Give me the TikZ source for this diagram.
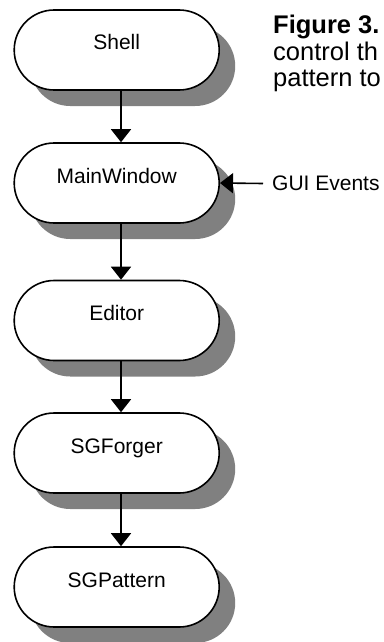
\documentclass[tikz,border=0pt]{standalone}
\usepackage{fontspec}
\setmainfont{Liberation Sans}
\usetikzlibrary{shapes.misc,arrows.meta,shadows}
\definecolor{shadowgray}{HTML}{808080}
\tikzset{
  stadium/.style={rounded rectangle, draw=black, line width=1.6pt, fill=white,
    minimum width=205pt, minimum height=80pt, inner sep=0pt,
    drop shadow={shadow xshift=16pt, shadow yshift=-16pt, fill=shadowgray, opacity=1}},
  boxlabel/.style={anchor=base, inner sep=0pt, font=\fontsize{21}{25}\selectfont},
  flow/.style={line width=1.6pt, -{Triangle[length=13pt,width=20pt]}},
  caption/.style={anchor=base west, inner sep=0pt, font=\fontsize{25.5}{26.7}\selectfont}
}
\begin{document}
\begin{tikzpicture}[x=1pt,y=1pt]
  \useasboundingbox[fill=white] (0,0) rectangle (383,-642);

  % the chain of components
  \node[stadium] (shell)  at (116.7,-50)    {};
  \node[stadium] (main)   at (116.7,-183)   {};
  \node[stadium] (editor) at (116.7,-320.5) {};
  \node[stadium] (forger) at (116.7,-453)   {};
  \node[stadium] (sgpat)  at (116.7,-587)   {};

  \node[boxlabel] (shell-t)  at (shell.center)  {Shell};
  \node[boxlabel] (main-t)   at (main.center)   {MainWindow};
  \node[boxlabel] (editor-t) at (editor.center) {Editor};
  \node[boxlabel] (forger-t) at (forger.center) {SGForger};
  \node[boxlabel] (sgpat-t)  at (sgpat.center)  {SGPattern};

  % control flow between components
  \draw[flow] ([xshift=4.3pt]shell.south)  -- ([xshift=4.3pt]main.north);
  \draw[flow] ([xshift=4.3pt]main.south)   -- ([xshift=4.3pt]editor.north);
  \draw[flow] ([xshift=4.3pt]editor.south) -- ([xshift=4.3pt]forger.north);
  \draw[flow] ([xshift=4.3pt]forger.south) -- ([xshift=4.3pt]sgpat.north);

  % external input
  \coordinate (gui) at (263,-183.5);
  \node[anchor=base west, inner sep=0pt, font=\fontsize{21}{25}\selectfont] (gui-t) at (272,-190.7) {GUI Events};
  \draw[flow] (gui) -- (main.east);

  % caption
  \node[caption, font=\fontsize{25.5}{26.7}\selectfont\bfseries] (cap1) at (273,-33.3) {Figure 3.};
  \node[caption] (cap2) at (273,-60) {control th};
  \node[caption] (cap3) at (273,-86.3) {pattern to};
\end{tikzpicture}
\end{document}
